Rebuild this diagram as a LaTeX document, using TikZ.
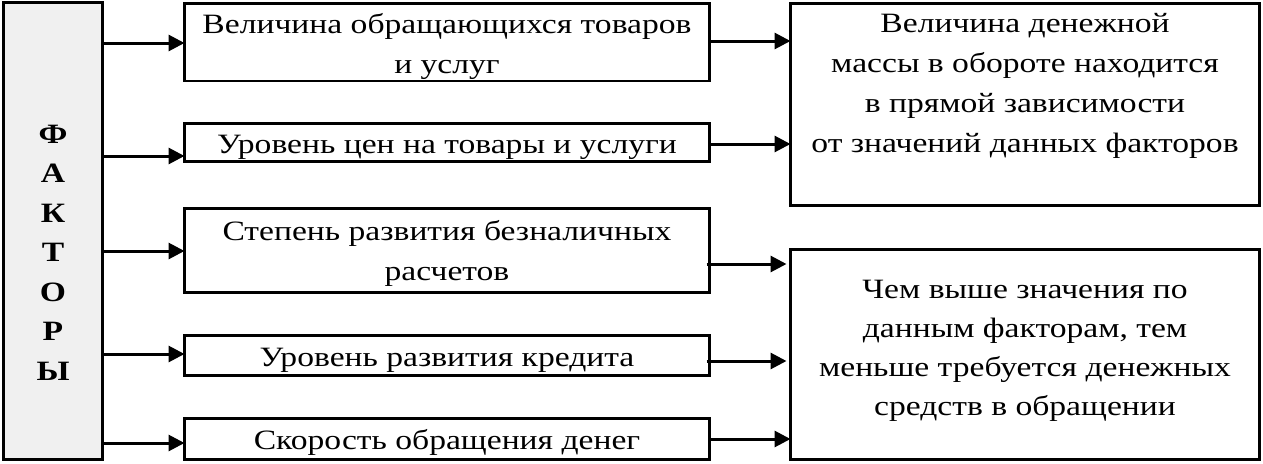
\documentclass[tikz,border=0pt]{standalone}
\usepackage{fontspec}
\setmainfont{Liberation Serif}[FakeStretch=1.2]
\usetikzlibrary{arrows.meta}
\definecolor{lightfill}{HTML}{F0F0F0}
\begin{document}
\begin{tikzpicture}[x=1pt,y=-1pt,
  box/.style={draw, line width=2.6pt, inner sep=0pt, outer sep=0pt, anchor=north west},
  txt/.style={align=center, font=\fontsize{28}{40}\selectfont, inner sep=0pt, anchor=base},
  arr/.style={line width=3pt, -{Triangle[length=16pt,width=16pt]}}]
\useasboundingbox (0,0) rectangle (1263,463);
% left box
\node[box, line width=3pt, fill=lightfill, minimum width=99pt, minimum height=457pt] (F) at (3.5,2.5) {};
\node[txt, font=\fontsize{28}{39.5}\selectfont\bfseries] (Ft) at (53,380) {Ф\\А\\К\\Т\\О\\Р\\Ы};
% factor boxes
\node[box, minimum width=525pt, minimum height=77.5pt] (b1) at (184.5,3.5) {};
\node[box, minimum width=525pt, minimum height=38pt] (b2) at (184.5,123.5) {};
\node[box, minimum width=525pt, minimum height=84pt] (b3) at (184.5,208.5) {};
\node[box, minimum width=525pt, minimum height=40pt] (b4) at (184.5,335.5) {};
\node[box, minimum width=525pt, minimum height=41pt] (b5) at (184.5,418.5) {};
\node[txt] (t1) at (447,73) {Величина обращающихся товаров\\и услуг};
\node[txt] (t2) at (447,153) {Уровень цен на товары и услуги};
\node[txt] (t3) at (447,280) {Степень развития безналичных\\расчетов};
\node[txt] (t4) at (447,366) {Уровень развития кредита};
\node[txt] (t5) at (447,449) {Скорость обращения денег};
% result boxes
\node[box, minimum width=469pt, minimum height=202pt] (r1) at (790.5,3.5) {};
\node[box, minimum width=469pt, minimum height=210pt] (r2) at (790.5,249.5) {};
\node[txt, font=\fontsize{28}{39.7}\selectfont] (rt1) at (1025,152) {Величина денежной\\массы в обороте находится\\в прямой зависимости\\от значений данных факторов};
\node[txt, font=\fontsize{28}{39}\selectfont] (rt2) at (1025,415) {Чем выше значения по\\данным факторам, тем\\меньше требуется денежных\\средств в обращении};
% levels
\coordinate (l1) at (0,43);
\coordinate (l2) at (0,156);
\coordinate (l3) at (0,251);
\coordinate (l4) at (0,354);
\coordinate (l5) at (0,443);
\coordinate (m1) at (0,41);
\coordinate (m2) at (0,144);
\coordinate (m3) at (0,264);
\coordinate (m4) at (0,361);
\coordinate (m5) at (0,439);
% arrows from factors
\draw[arr] (F.east |- l1) -- (b1.west |- l1);
\draw[arr] (F.east |- l2) -- (b2.west |- l2);
\draw[arr] (F.east |- l3) -- (b3.west |- l3);
\draw[arr] (F.east |- l4) -- (b4.west |- l4);
\draw[arr] (F.east |- l5) -- (b5.west |- l5);
% arrows to results
\draw[arr] (b1.east |- m1) -- (r1.west |- m1);
\draw[arr] (b2.east |- m2) -- (r1.west |- m2);
\draw[arr, shorten <=-3pt, shorten >=4pt] (b3.east |- m3) -- (r2.west |- m3);
\draw[arr, shorten <=-3pt, shorten >=4pt] (b4.east |- m4) -- (r2.west |- m4);
\draw[arr] (b5.east |- m5) -- (r2.west |- m5);
\end{tikzpicture}
\end{document}
